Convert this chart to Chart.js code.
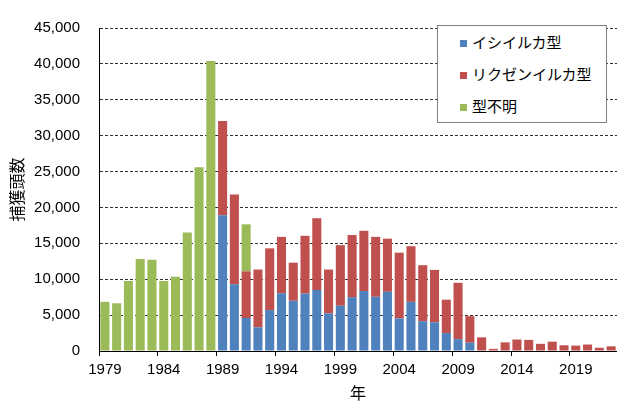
<!DOCTYPE html>
<html lang="ja">
<head>
<meta charset="utf-8">
<script src="https://cdn.jsdelivr.net/npm/chart.js@4/dist/chart.umd.min.js"></script>
<style>
  body { margin: 0; background: #fff; }
  #wrap { position: relative; width: 617px; height: 403px; }
  #legend {
    position: absolute; left: 437px; top: 25px; width: 168px; height: 96px;
    background: #fff; border: 1px solid #7f7f7f;
    font-family: 'Liberation Sans', Arial, 'Noto Sans CJK JP', sans-serif; font-size: 15px; color: #000;
  }
  #legend .item { position: absolute; left: 22px; height: 20px; line-height: 20px; white-space: nowrap; }
  #legend .box { display: inline-block; width: 7px; height: 7px; margin-right: 5px; vertical-align: 1px; }
</style>
</head>
<body>
<div id="wrap">
  <canvas id="catchChart" width="617" height="403"></canvas>
  <div id="legend"></div>
</div>
<script>
// 年 (1979-2022)
const years = [
  '1979', '1980', '1981', '1982', '1983', '1984', '1985', '1986', '1987', '1988',
  '1989', '1990', '1991', '1992', '1993', '1994', '1995', '1996', '1997', '1998',
  '1999', '2000', '2001', '2002', '2003', '2004', '2005', '2006', '2007', '2008',
  '2009', '2010', '2011', '2012', '2013', '2014', '2015', '2016', '2017', '2018',
  '2019', '2020', '2021', '2022'
];

// イシイルカ型
const dalliValues = [
  null, null, null, null, null, null, null, null, null, null,
  18900, 9300, 4600, 3300, 5700, 8050, 7000, 8000, 8500, 5250,
  6300, 7500, 8350, 7550, 8250, 4550, 6850, 4150, 4000, 2500,
  1650, 1150, null, null, null, null, null, null, null, null,
  null, null, null, null
];

// リクゼンイルカ型
const trueiValues = [
  null, null, null, null, null, null, null, null, null, null,
  13150, 12500, 6500, 8050, 8600, 7850, 5300, 8050, 10000, 6100,
  8450, 8650, 8400, 8350, 7400, 9150, 7750, 7800, 7300, 4650,
  7850, 3700, 1900, 300, 1200, 1600, 1550, 1000, 1300, 800,
  750, 900, 450, 650
];

// 型不明
const unknownValues = [
  6850, 6650, 9750, 12800, 12700, 9750, 10350, 16500, 25600, 40400,
  null, null, 6550, null, null, null, null, null, null, null,
  null, null, null, null, null, null, null, null, null, null,
  null, null, null, null, null, null, null, null, null, null,
  null, null, null, null
];

// y軸の目盛り
const yMax = 45000;
const yStep = 5000;

const seriesNames = ['イシイルカ型', 'リクゼンイルカ型', '型不明'];
const seriesColors = ['#4F81BD', '#C0504D', '#9BBB59'];

const FONT = "'Liberation Sans', Arial, 'Noto Sans CJK JP', sans-serif";

// 凡例 (グラフ内の枠)
function buildLegend() {
    const legend = document.getElementById('legend');
    seriesNames.forEach((name, i) => {
        const item = document.createElement('div');
        item.className = 'item';
        item.style.top = (7 + i * 32) + 'px';
        item.innerHTML = `<span class="box" style="background:${seriesColors[i]}"></span>${name}`;
        legend.appendChild(item);
    });
}

function createChart() {
    const ctx = document.getElementById('catchChart').getContext('2d');
    const bar = (label, data, color) => ({
        label: label,
        data: data,
        backgroundColor: color,
        borderWidth: 0,
        barPercentage: 0.77,
        categoryPercentage: 1.0
    });

    new Chart(ctx, {
        type: 'bar',
        data: {
            labels: years,
            datasets: [
                bar(seriesNames[0], dalliValues, seriesColors[0]),
                bar(seriesNames[1], trueiValues, seriesColors[1]),
                bar(seriesNames[2], unknownValues, seriesColors[2])
            ]
        },
        options: {
            responsive: false,
            animation: false,
            layout: { padding: { top: 17, right: 0, bottom: 0, left: 0 } },
            plugins: {
                legend: { display: false },
                tooltip: { enabled: false }
            },
            scales: {
                x: {
                    stacked: true,
                    afterFit: (scale) => { scale.height = 52; },
                    grid: {
                        offset: true,
                        drawOnChartArea: false,
                        drawTicks: true,
                        tickLength: 5,
                        color: (c) => (c.index % 5 === 0 ? '#000' : 'rgba(0,0,0,0)')
                    },
                    border: { color: '#000', width: 1 },
                    ticks: {
                        autoSkip: false,
                        maxRotation: 0,
                        padding: 5,
                        color: '#000',
                        font: { family: FONT, size: 15 },
                        callback: (v, i) => (i % 5 === 0 ? years[i] : '')
                    },
                    title: {
                        display: true,
                        text: '年',
                        color: '#000',
                        font: { family: FONT, size: 16, lineHeight: 1 },
                        padding: { top: 0, bottom: 0 }
                    }
                },
                y: {
                    stacked: true,
                    min: 0,
                    max: yMax,
                    afterFit: (scale) => { scale.width = 99; },
                    grid: {
                        drawTicks: false,
                        color: (c) => (c.tick && c.tick.value === 0 ? 'rgba(0,0,0,0)' : '#333'),
                        lineWidth: 1
                    },
                    border: { color: '#000', width: 1, dash: [3, 2] },
                    ticks: {
                        stepSize: yStep,
                        padding: 19,
                        color: '#000',
                        font: { family: FONT, size: 15 },
                        callback: (v) => v.toLocaleString('en-US')
                    },
                    title: {
                        display: true,
                        text: '捕獲頭数',
                        color: '#000',
                        font: { family: FONT, size: 16, lineHeight: 1 },
                        padding: 11
                    }
                }
            }
        }
    });
}

buildLegend();
createChart();
</script>
</body>
</html>
